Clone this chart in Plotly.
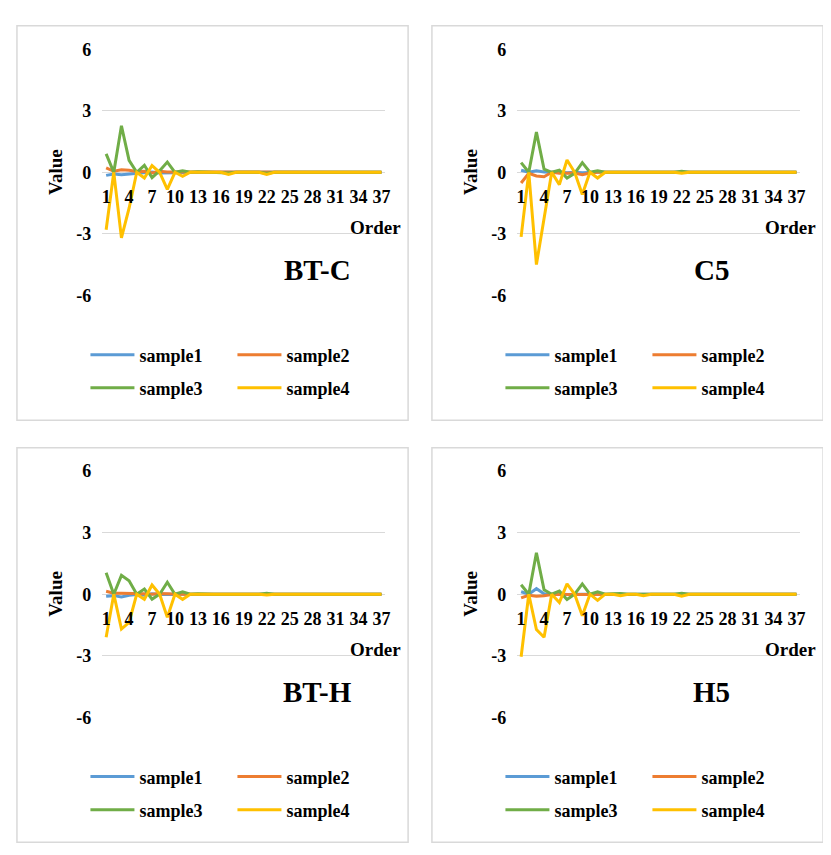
import plotly.graph_objects as go

orders = list(range(1, 38))
tick_orders = list(range(1, 38, 3))
y_ticks = [-6, -3, 0, 3, 6]
y_tick_text = ["-6", "-3", "0", "3", "6"]
series_names = ["sample1", "sample2", "sample3", "sample4"]
colors = ["#5B9BD5", "#ED7D31", "#70AD47", "#FFC000"]
panel_titles = ["BT-C", "C5", "BT-H", "H5"]

btc_s1 = [-0.15, -0.08, -0.12, -0.08, -0.03, -0.02, 0.02, -0.03, -0.02, -0.02, 0.00, -0.01,
          0.00, 0.00, 0.00, 0.00, 0.00, 0.00, 0.00, 0.00, 0.00, 0.00, 0.00, 0.00, 0.00,
          0.00, 0.00, 0.00, 0.00, 0.00, 0.00, 0.00, 0.00, 0.00, 0.00, 0.00, 0.00]
btc_s2 = [0.22, 0.05, 0.12, 0.10, 0.04, 0.05, -0.03, 0.05, 0.02, 0.02, 0.00, 0.01,
          0.00, 0.00, 0.00, 0.00, 0.00, 0.00, 0.00, 0.00, 0.00, 0.00, 0.00, 0.00, 0.00,
          0.00, 0.00, 0.00, 0.00, 0.00, 0.00, 0.00, 0.00, 0.00, 0.00, 0.00, 0.00]
btc_s3 = [0.90, 0.00, 2.27, 0.58, 0.00, 0.34, -0.26, 0.08, 0.50, 0.00, 0.08, 0.00,
          0.03, 0.02, 0.00, 0.00, -0.03, 0.00, 0.00, 0.00, 0.00, -0.05, 0.00, 0.00, 0.00,
          0.00, 0.00, 0.00, 0.00, 0.00, 0.00, 0.00, 0.00, 0.00, 0.00, 0.00, 0.00]
btc_s4 = [-2.80, 0.00, -3.20, -1.75, 0.00, -0.28, 0.33, 0.00, -0.83, 0.00, -0.20, 0.00,
          0.00, 0.00, 0.00, 0.00, -0.10, 0.00, 0.00, 0.00, 0.00, -0.10, 0.00, 0.00, 0.00,
          0.00, 0.00, 0.00, 0.00, 0.00, 0.00, 0.00, 0.00, 0.00, 0.00, 0.00, 0.00]

c5_s1 = [0.10, 0.00, 0.08, 0.02, 0.00, 0.02, -0.02, 0.00, -0.02, 0.00, 0.00, 0.00,
         0.00, 0.00, 0.00, 0.00, 0.00, 0.00, 0.00, 0.00, 0.00, 0.00, 0.00, 0.00, 0.00,
         0.00, 0.00, 0.00, 0.00, 0.00, 0.00, 0.00, 0.00, 0.00, 0.00, 0.00, 0.00]
c5_s2 = [-0.52, -0.05, -0.18, -0.22, 0.00, -0.05, -0.05, -0.03, -0.12, -0.03, 0.00, 0.00,
         0.00, 0.00, 0.00, 0.00, 0.00, 0.00, 0.00, 0.00, 0.00, 0.00, 0.00, 0.00, 0.00,
         0.00, 0.00, 0.00, 0.00, 0.00, 0.00, 0.00, 0.00, 0.00, 0.00, 0.00, 0.00]
c5_s3 = [0.47, 0.00, 1.96, 0.15, 0.00, 0.10, -0.28, -0.05, 0.47, 0.00, 0.08, 0.00,
         0.00, 0.00, 0.00, 0.00, 0.00, 0.00, 0.00, 0.00, 0.00, 0.05, 0.00, 0.00, 0.00,
         0.00, 0.00, 0.00, 0.00, 0.00, 0.00, 0.00, 0.00, 0.00, 0.00, 0.00, 0.00]
c5_s4 = [-3.15, 0.00, -4.50, -2.25, 0.00, -0.60, 0.60, 0.00, -1.08, 0.00, -0.28, 0.00,
         0.00, 0.00, 0.00, 0.00, 0.00, 0.00, 0.00, 0.00, 0.00, -0.05, 0.00, 0.00, 0.00,
         0.00, 0.00, 0.00, 0.00, 0.00, 0.00, 0.00, 0.00, 0.00, 0.00, 0.00, 0.00]

bth_s1 = [-0.10, -0.07, -0.14, -0.05, -0.02, -0.05, 0.02, -0.02, 0.00, -0.02, 0.00, 0.00,
          0.00, 0.00, 0.00, 0.00, 0.00, 0.00, 0.00, 0.00, 0.00, 0.00, 0.00, 0.00, 0.00,
          0.00, 0.00, 0.00, 0.00, 0.00, 0.00, 0.00, 0.00, 0.00, 0.00, 0.00, 0.00]
bth_s2 = [0.14, 0.05, 0.05, 0.05, 0.02, 0.02, 0.00, 0.03, 0.02, 0.00, 0.00, 0.00,
          0.00, 0.00, 0.00, 0.00, 0.00, 0.00, 0.00, 0.00, 0.00, 0.00, 0.00, 0.00, 0.00,
          0.00, 0.00, 0.00, 0.00, 0.00, 0.00, 0.00, 0.00, 0.00, 0.00, 0.00, 0.00]
bth_s3 = [1.05, 0.00, 0.92, 0.65, 0.00, 0.25, -0.24, 0.00, 0.58, 0.00, 0.12, 0.00,
          0.02, 0.00, 0.00, 0.00, 0.00, 0.00, 0.00, 0.00, 0.00, 0.04, 0.00, 0.00, 0.00,
          0.00, 0.00, 0.00, 0.00, 0.00, 0.00, 0.00, 0.00, 0.00, 0.00, 0.00, 0.00]
bth_s4 = [-2.10, 0.00, -1.70, -1.38, 0.00, -0.25, 0.45, 0.00, -1.13, 0.00, -0.25, 0.00,
          0.00, 0.00, 0.00, 0.00, 0.00, 0.00, 0.00, 0.00, 0.00, -0.04, 0.00, 0.00, 0.00,
          0.00, 0.00, 0.00, 0.00, 0.00, 0.00, 0.00, 0.00, 0.00, 0.00, 0.00, 0.00]

h5_s1 = [0.12, 0.00, 0.27, 0.02, 0.00, 0.02, -0.02, 0.00, 0.00, 0.00, 0.00, 0.00,
         0.00, 0.00, 0.00, 0.00, 0.00, 0.00, 0.00, 0.00, 0.00, 0.00, 0.00, 0.00, 0.00,
         0.00, 0.00, 0.00, 0.00, 0.00, 0.00, 0.00, 0.00, 0.00, 0.00, 0.00, 0.00]
h5_s2 = [-0.18, -0.05, -0.10, -0.08, -0.02, -0.03, -0.03, -0.02, -0.02, -0.02, 0.00, 0.00,
         0.00, 0.00, 0.00, 0.00, 0.00, 0.00, 0.00, 0.00, 0.00, 0.00, 0.00, 0.00, 0.00,
         0.00, 0.00, 0.00, 0.00, 0.00, 0.00, 0.00, 0.00, 0.00, 0.00, 0.00, 0.00]
h5_s3 = [0.46, 0.00, 2.02, 0.22, 0.00, 0.15, -0.26, 0.00, 0.50, 0.00, 0.12, 0.00,
         0.02, 0.03, 0.00, 0.00, 0.03, 0.00, 0.00, 0.00, 0.00, 0.05, 0.00, 0.00, 0.00,
         0.00, 0.00, 0.00, 0.00, 0.00, 0.00, 0.00, 0.00, 0.00, 0.00, 0.00, 0.00]
h5_s4 = [-3.05, 0.00, -1.72, -2.10, 0.00, -0.40, 0.50, 0.00, -1.05, 0.00, -0.30, 0.00,
         0.00, -0.08, 0.00, 0.00, -0.08, 0.00, 0.00, 0.00, 0.00, -0.10, 0.00, 0.00, 0.00,
         0.00, 0.00, 0.00, 0.00, 0.00, 0.00, 0.00, 0.00, 0.00, 0.00, 0.00, 0.00]

panel_data = [
    [btc_s1, btc_s2, btc_s3, btc_s4],
    [c5_s1, c5_s2, c5_s3, c5_s4],
    [bth_s1, bth_s2, bth_s3, bth_s4],
    [h5_s1, h5_s2, h5_s3, h5_s4],
]

W, H = 831, 855
FONT = "Liberation Serif"
GRID = "#D9D9D9"
offsets = [(0, 0), (418, 0), (0, 432), (418, 432)]
title_cx = [311, 290, 311, 290]


def px(x):
    return x / W


def py(y):
    return 1 - y / H


fig = go.Figure()
layout = dict(
    width=W, height=H, margin=dict(l=0, r=0, t=0, b=0),
    paper_bgcolor="white", plot_bgcolor="white", showlegend=True,
    annotations=[], shapes=[],
)

for i, (dx, dy) in enumerate(offsets):
    n = i + 1
    xa = "xaxis" if n == 1 else f"xaxis{n}"
    ya = "yaxis" if n == 1 else f"yaxis{n}"
    xr = "x" if n == 1 else f"x{n}"
    yr = "y" if n == 1 else f"y{n}"
    leg_a = "legend" if i == 0 else f"legend{2 * i + 1}"
    leg_b = f"legend{2 * i + 2}"

    for k, name in enumerate(series_names):
        fig.add_trace(go.Scatter(
            x=orders, y=panel_data[i][k], mode="lines", name=name,
            line=dict(color=colors[k], width=3),
            xaxis=xr, yaxis=yr,
            legend=leg_a if k < 2 else leg_b,
            showlegend=True,
        ))

    layout[xa] = dict(
        domain=[px(94 + dx), px(379 + dx)], range=[0.5, 37.5],
        anchor="free", position=py(158 + dy),
        tickmode="array", tickvals=tick_orders, ticktext=[str(t) for t in tick_orders],
        showgrid=False, zeroline=False, showline=False, ticks="",
        ticklabelstandoff=12,
        tickfont=dict(family=FONT, size=18, color="black", weight="bold"),
    )
    layout[ya] = dict(
        domain=[py(284 + dy), py(32 + dy)], range=[-6, 6],
        anchor=xr, tickmode="array", tickvals=y_ticks, ticktext=y_tick_text,
        showgrid=True, gridcolor=GRID, gridwidth=1, zeroline=False, showline=False,
        ticks="", ticklabelstandoff=10,
        tickfont=dict(family=FONT, size=18, color="black", weight="bold"),
    )

    for lg, ry in ((leg_a, 345), (leg_b, 379)):
        layout[lg] = dict(
            x=px(77 + dx), y=py(ry + dy), xanchor="left", yanchor="middle",
            orientation="h", itemwidth=44, entrywidth=88, entrywidthmode="pixels",
            font=dict(family=FONT, size=18, color="black", weight="bold"),
            bgcolor="rgba(0,0,0,0)", tracegroupgap=0, itemclick=False,
        )

    layout["shapes"].append(dict(
        type="rect", xref="paper", yref="paper",
        x0=px(8 + dx), x1=px(402 + dx), y0=py(412 + dy), y1=py(8 + dy),
        line=dict(color=GRID, width=1.5), fillcolor="rgba(0,0,0,0)", layer="below",
    ))
    layout["annotations"].append(dict(
        text="Value", xref="paper", yref="paper", x=px(47 + dx), y=py(158 + dy),
        xanchor="center", yanchor="middle", textangle=-90, showarrow=False,
        font=dict(family=FONT, size=19, color="black", weight="bold"),
    ))
    layout["annotations"].append(dict(
        text="Order", xref="paper", yref="paper", x=px(369 + dx), y=py(215 + dy),
        xanchor="center", yanchor="middle", showarrow=False,
        font=dict(family=FONT, size=19, color="black", weight="bold"),
    ))
    layout["annotations"].append(dict(
        text=panel_titles[i], xref="paper", yref="paper", x=px(title_cx[i] + dx), y=py(258 + dy),
        xanchor="center", yanchor="middle", showarrow=False,
        font=dict(family=FONT, size=29, color="black", weight="bold"),
    ))

fig.update_layout(**layout)
fig.write_html("out.html")
